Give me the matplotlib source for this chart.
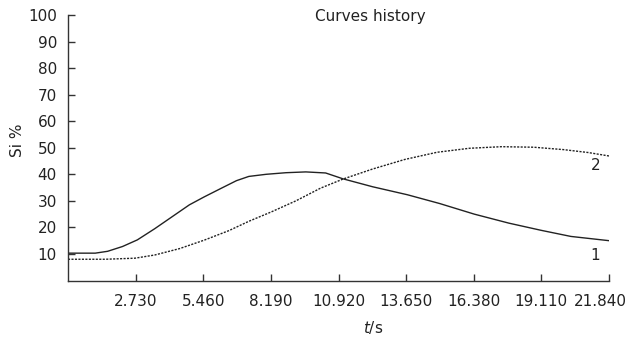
import matplotlib
matplotlib.use("Agg")
import matplotlib.pyplot as plt
from matplotlib.transforms import ScaledTranslation

plt.rcParams["font.family"] = ["DejaVu Sans"]

t1 = [0, 1.1, 1.6, 2.2, 2.8, 3.5, 4.2, 4.9, 5.5, 6.2, 6.8, 7.3, 8.0, 8.8, 9.6, 10.4,
      11.1, 12.3, 13.7, 15.0, 16.4, 17.8, 19.1, 20.3, 21.84]
v1 = [10.3, 10.3, 11.0, 12.8, 15.3, 19.5, 24.0, 28.5, 31.5, 34.8, 37.6, 39.2, 40.0, 40.6, 40.9, 40.5,
      38.3, 35.3, 32.3, 29.0, 25.0, 21.6, 18.9, 16.6, 15.0]
t2 = [0, 1.5, 2.7, 3.5, 4.5, 5.5, 6.5, 7.3, 8.2, 9.2, 10.2, 11.1, 12.3, 13.6, 14.9,
      16.2, 17.5, 18.8, 20.0, 21.0, 21.84]
v2 = [8.0, 8.0, 8.4, 9.6, 12.0, 15.2, 18.8, 22.3, 25.8, 30.0, 34.8, 38.2, 42.0, 45.6, 48.3,
      49.8, 50.4, 50.2, 49.3, 48.2, 46.9]
xticks = [2.730, 5.460, 8.190, 10.920, 13.650, 16.380, 19.110, 21.840]
yticks = [10, 20, 30, 40, 50, 60, 70, 80, 90, 100]

fs = 11
fig = plt.figure(figsize=(6.26, 3.4), dpi=100)
ax = fig.add_axes([68/626, 1-280.5/340, (609-68)/626, (280.5-15)/340])
ax.plot(t1, v1, color="#222222", lw=1.0)
ax.plot(t2, v2, color="#222222", lw=1.0, linestyle=(0, (1.5, 1)))
ax.set_xlim(0, 21.84)
ax.set_ylim(0, 100)
ax.set_xticks(xticks)
ax.set_xticklabels([f"{x:.3f}" for x in xticks])
ax.set_yticks(yticks)
ax.spines["top"].set_visible(False)
ax.spines["right"].set_visible(False)
for s in ("left", "bottom"):
    ax.spines[s].set_color("#333333")
    ax.spines[s].set_linewidth(1.0)
ax.tick_params(axis="both", direction="in", length=5, width=1, color="#333333",
               labelsize=fs, labelcolor="#222222")
ax.tick_params(axis="y", pad=8)
ax.tick_params(axis="x", pad=10)
last = ax.get_xticklabels()[-1]
last.set_transform(last.get_transform() + ScaledTranslation(-9/100, 0, fig.dpi_scale_trans))
ax.text(21.3, 43.5, "2", fontsize=fs, color="#222222", ha="center", va="center")
ax.text(21.3, 9.5, "1", fontsize=fs, color="#222222", ha="center", va="center")
fig.text(370/626, 1-17/340, "Curves history", fontsize=fs, color="#222222", ha="center", va="center")
fig.text(18/626, 1-140/340, "Si %", fontsize=fs, color="#222222", ha="center", va="center", rotation=90)
fig.text(373/626, 1-328/340, "$t$/s", fontsize=fs, color="#222222", ha="center", va="center")
fig.savefig("out.png", dpi=100)
